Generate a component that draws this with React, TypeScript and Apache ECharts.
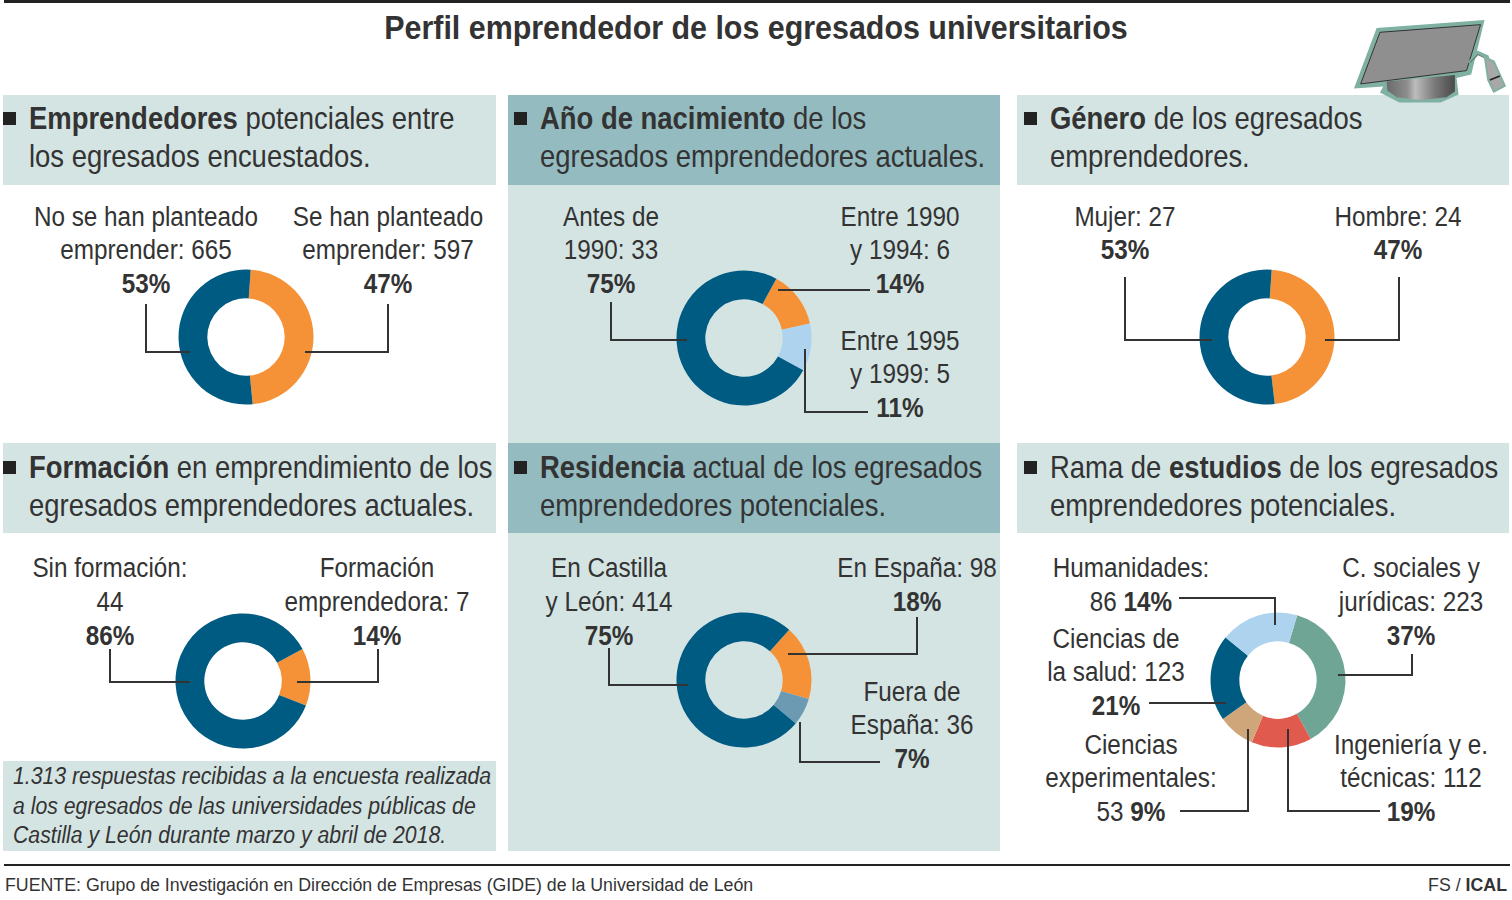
import React, { useEffect, useRef } from "react";
import * as echarts from "echarts";

const titleText = "Perfil emprendedor de los egresados universitarios";

// ---- values ----
const potentialValues = [597, 665];
const birthValues = [6, 5, 33];
const genderValues = [24, 27];
const trainingValues = [7, 44];
const residenceValues = [98, 36, 414];
// Arcs as drawn in the reference, which gives red the 86 arc and light blue the 112 arc,
// although the reference's labels lead those arcs to "Ingeniería: 112" and "Humanidades: 86".
const branchArcValues = [223, 86, 53, 123, 112];

// ---- header texts: [text, bold] ----
const headPotential = [[["Emprendedores", 1], [" potenciales entre", 0]], [["los egresados encuestados.", 0]]];
const headBirth = [[["Año de nacimiento", 1], [" de los", 0]], [["egresados emprendedores actuales.", 0]]];
const headGender = [[["Género", 1], [" de los egresados", 0]], [["emprendedores.", 0]]];
const headTraining = [[["Formación", 1], [" en emprendimiento de los", 0]], [["egresados emprendedores actuales.", 0]]];
const headResidence = [[["Residencia", 1], [" actual de los egresados", 0]], [["emprendedores potenciales.", 0]]];
const headBranch = [[["Rama de ", 0], ["estudios", 1], [" de los egresados", 0]], [["emprendedores potenciales.", 0]]];

const noteLines = [
  "1.313 respuestas recibidas a la encuesta realizada",
  "a los egresados de las universidades públicas de",
  "Castilla y León durante marzo y abril de 2018.",
];
const sourceText = "FUENTE: Grupo de Investigación en Dirección de Empresas (GIDE) de la Universidad de León";

const NAVY = "#005b82";
const ORANGE = "#f59237";
const SKY = "#add3ee";
const STEEL = "#6c9ab3";
const GREEN = "#6fa595";
const RED = "#e05a4e";
const TAN = "#cfa67a";
const PANEL = "#d3e4e3";
const DARK = "#94bbc0";
const INK = "#333333";
const FONT = "'Liberation Sans', Arial, sans-serif";

type Seg = [string, number];

function richLine(segs: Seg[]) {
  return segs.map(([t, b]) => `{${b ? "b" : "r"}|${t}}`).join("");
}

function txt(x: number, y: number, segs: Seg[], size: number, align = "center", sx = 0.92, extra: any = {}) {
  return {
    type: "text",
    x,
    y,
    scaleX: sx,
    z: 10,
    style: {
      text: richLine(segs),
      align,
      verticalAlign: "middle",
      fill: INK,
      font: `${size}px ${FONT}`,
      rich: {
        r: { fontFamily: FONT, fontSize: size, fontWeight: "normal", fontStyle: extra.italic ? "italic" : "normal", fill: INK },
        b: { fontFamily: FONT, fontSize: size, fontWeight: "bold", fill: extra.color || INK },
      },
    },
  };
}

function rect(x: number, y: number, w: number, h: number, fill: string, z = 0) {
  return { type: "rect", z, shape: { x, y, width: w, height: h }, style: { fill } };
}

function leader(points: number[][]) {
  return { type: "polyline", z: 8, shape: { points }, style: { stroke: INK, lineWidth: 2, fill: "none" } };
}

const LBL = 27;
function label(cx: number, y: number, s: string, bold = 0) {
  return txt(cx, y, [[s, bold]], LBL, "center", 0.9);
}

const HEAD_SX = 0.885;
function header(x: number, y: number, lines: any) {
  return [
    rect(x - 26, y - 6, 13, 13, "#222222", 5),
    txt(x, y, lines[0], 31, "left", HEAD_SX),
    txt(x, y + 38, lines[1], 31, "left", HEAD_SX),
  ];
}

function hat() {
  const g = (stops: [number, string][]) => ({
    type: "linear", x: 0, y: 0, x2: 1, y2: 0,
    colorStops: stops.map(([offset, color]) => ({ offset, color })),
  });
  return {
    type: "group",
    x: 1340,
    y: 0,
    scaleX: 1 / 3,
    scaleY: 1 / 3,
    z: 6,
    children: [
      { type: "polygon", z: 6, shape: { points: [[110, 84], [434, 60], [394, 224], [350, 234], [356, 284], [302, 308], [178, 308], [120, 278], [130, 260], [42, 266]] }, style: { fill: "#7fb0a2" } },
      { type: "polygon", z: 6, shape: { points: [[140, 245], [345, 225], [345, 275], [320, 292], [240, 300], [170, 292], [142, 272]] }, style: { fill: g([[0, "#6a6a6a"], [0.3, "#8d8d8d"], [0.42, "#bdbdbd"], [0.7, "#7a7a7a"], [1, "#4a4a4a"]]) } },
      { type: "polygon", z: 6, shape: { points: [[120, 97], [422, 74], [380, 212], [62, 252]] }, style: { fill: "#8f8f8f", stroke: "#333333", lineWidth: 3 } },
      { type: "polyline", z: 6, shape: { points: [[388, 190], [414, 158], [442, 170], [464, 238]] }, style: { stroke: "#7fb0a2", lineWidth: 10, fill: "none" } },
      { type: "polyline", z: 6, shape: { points: [[390, 188], [414, 164], [438, 176]] }, style: { stroke: "#333333", lineWidth: 2, fill: "none" } },
      { type: "polygon", z: 6, shape: { points: [[435, 172], [462, 185], [495, 258], [462, 275], [445, 240]] }, style: { fill: "#a8a8a8", stroke: "#7fb0a2", lineWidth: 6 } },
      { type: "line", z: 6, shape: { x1: 450, y1: 240, x2: 480, y2: 228 }, style: { stroke: "#222222", lineWidth: 5 } },
    ],
  };
}

function pie(cx: number, cy: number, startAngle: number, values: number[], colors: string[]) {
  return {
    type: "pie",
    center: [cx, cy],
    radius: [38.7, 67.5],
    startAngle,
    clockwise: true,
    z: 3,
    silent: true,
    label: { show: false },
    labelLine: { show: false },
    itemStyle: { borderWidth: 0 },
    data: values.map((value, i) => ({ value, itemStyle: { color: colors[i] } })),
  };
}

export default function App() {
  const ref = useRef<HTMLDivElement>(null);
  useEffect(() => {
    if (!ref.current) return;
    const chart = echarts.init(ref.current, undefined, { renderer: "svg" });
    const elements: any[] = [
      rect(4, 0, 1506, 3, "#222222"),
      txt(756, 28, [[titleText, 1]], 33, "center", 0.922),
      // panels
      rect(3, 95, 493, 90, PANEL),
      rect(508, 95, 492, 90, DARK),
      rect(508, 185, 492, 258, PANEL),
      rect(1017, 95, 492, 90, PANEL),
      rect(3, 443, 493, 90, PANEL),
      rect(508, 443, 492, 90, DARK),
      rect(508, 533, 492, 318, PANEL),
      rect(1017, 443, 492, 90, PANEL),
      rect(3, 761, 493, 90, PANEL),
      // headers
      ...header(29, 118, headPotential),
      ...header(540, 118, headBirth),
      ...header(1050, 118, headGender),
      ...header(29, 467, headTraining),
      ...header(540, 467, headResidence),
      ...header(1050, 467, headBranch),
      // chart 1
      label(146, 217, "No se han planteado"), label(146, 250, "emprender: 665"), label(146, 284, "53%", 1),
      label(388, 217, "Se han planteado"), label(388, 250, "emprender: 597"), label(388, 284, "47%", 1),
      leader([[146, 304], [146, 352], [190, 352]]),
      leader([[388, 304], [388, 352], [305, 352]]),
      // chart 2
      label(611, 217, "Antes de"), label(611, 250, "1990: 33"), label(611, 284, "75%", 1),
      label(900, 217, "Entre 1990"), label(900, 250, "y 1994: 6"), label(900, 284, "14%", 1),
      label(900, 341, "Entre 1995"), label(900, 374, "y 1999: 5"), label(900, 408, "11%", 1),
      leader([[611, 302], [611, 340], [687, 340]]),
      leader([[870, 290], [778, 290]]),
      leader([[805, 349], [805, 412], [868, 412]]),
      // chart 3
      label(1125, 217, "Mujer: 27"), label(1125, 250, "53%", 1),
      label(1398, 217, "Hombre: 24"), label(1398, 250, "47%", 1),
      leader([[1125, 277], [1125, 340], [1212, 340]]),
      leader([[1399, 277], [1399, 340], [1325, 340]]),
      // chart 4
      label(110, 568, "Sin formación:"), label(110, 602, "44"), label(110, 636, "86%", 1),
      label(377, 568, "Formación"), label(377, 602, "emprendedora: 7"), label(377, 636, "14%", 1),
      leader([[110, 649], [110, 682], [190, 682]]),
      leader([[378, 649], [378, 682], [297, 682]]),
      // chart 5
      label(609, 568, "En Castilla"), label(609, 602, "y León: 414"), label(609, 636, "75%", 1),
      label(917, 568, "En España: 98"), label(917, 602, "18%", 1),
      label(912, 692, "Fuera de"), label(912, 725, "España: 36"), label(912, 759, "7%", 1),
      leader([[609, 648], [609, 685], [688, 685]]),
      leader([[917, 617], [917, 654], [788, 654]]),
      leader([[800, 722], [800, 762], [880, 762]]),
      // chart 6
      label(1131, 568, "Humanidades:"),
      txt(1131, 602, [["86 ", 0], ["14%", 1]], LBL, "center", 0.9),
      label(1116, 639, "Ciencias de"), label(1116, 672, "la salud: 123"), label(1116, 706, "21%", 1),
      label(1131, 745, "Ciencias"), label(1131, 778, "experimentales:"),
      txt(1131, 812, [["53 ", 0], ["9%", 1]], LBL, "center", 0.9),
      label(1411, 568, "C. sociales y"), label(1411, 602, "jurídicas: 223"), label(1411, 636, "37%", 1),
      label(1411, 745, "Ingeniería y e."), label(1411, 778, "técnicas: 112"), label(1411, 812, "19%", 1),
      leader([[1179, 598], [1275, 598], [1275, 625]]),
      leader([[1412, 654], [1412, 675], [1338, 675]]),
      leader([[1149, 703], [1226, 703]]),
      leader([[1180, 811], [1248, 811], [1248, 729]]),
      leader([[1288, 729], [1288, 811], [1380, 811]]),
      // note
      txt(13, 776, [[noteLines[0], 0]], 24, "left", 0.885, { italic: true }),
      txt(13, 806, [[noteLines[1], 0]], 24, "left", 0.885, { italic: true }),
      txt(13, 835, [[noteLines[2], 0]], 24, "left", 0.885, { italic: true }),
      // footer
      rect(4, 864, 1506, 2, "#222222"),
      txt(5, 885, [[sourceText, 0]], 18, "left", 0.987),
      txt(1507, 885, [["FS / ", 0], ["ICAL", 1]], 18, "right", 0.987),
      hat(),
    ];
    chart.setOption({
      animation: false,
      backgroundColor: "#ffffff",
      graphic: { elements },
      series: [
        pie(246, 337, 86, potentialValues, [ORANGE, NAVY]),
        pie(744, 338, 61.4, birthValues, [ORANGE, SKY, NAVY]),
        pie(1267, 337, 86, genderValues, [ORANGE, NAVY]),
        pie(243, 681, 28.2, trainingValues, [ORANGE, NAVY]),
        pie(744, 680, 48, residenceValues, [ORANGE, STEEL, NAVY]),
        pie(1278, 680, 73.5, branchArcValues, [GREEN, RED, TAN, NAVY, SKY]),
      ],
    });
    return () => chart.dispose();
  }, []);
  return <div ref={ref} style={{ position: "fixed", left: 0, top: 0, width: 1512, height: 900 }} />;
}
